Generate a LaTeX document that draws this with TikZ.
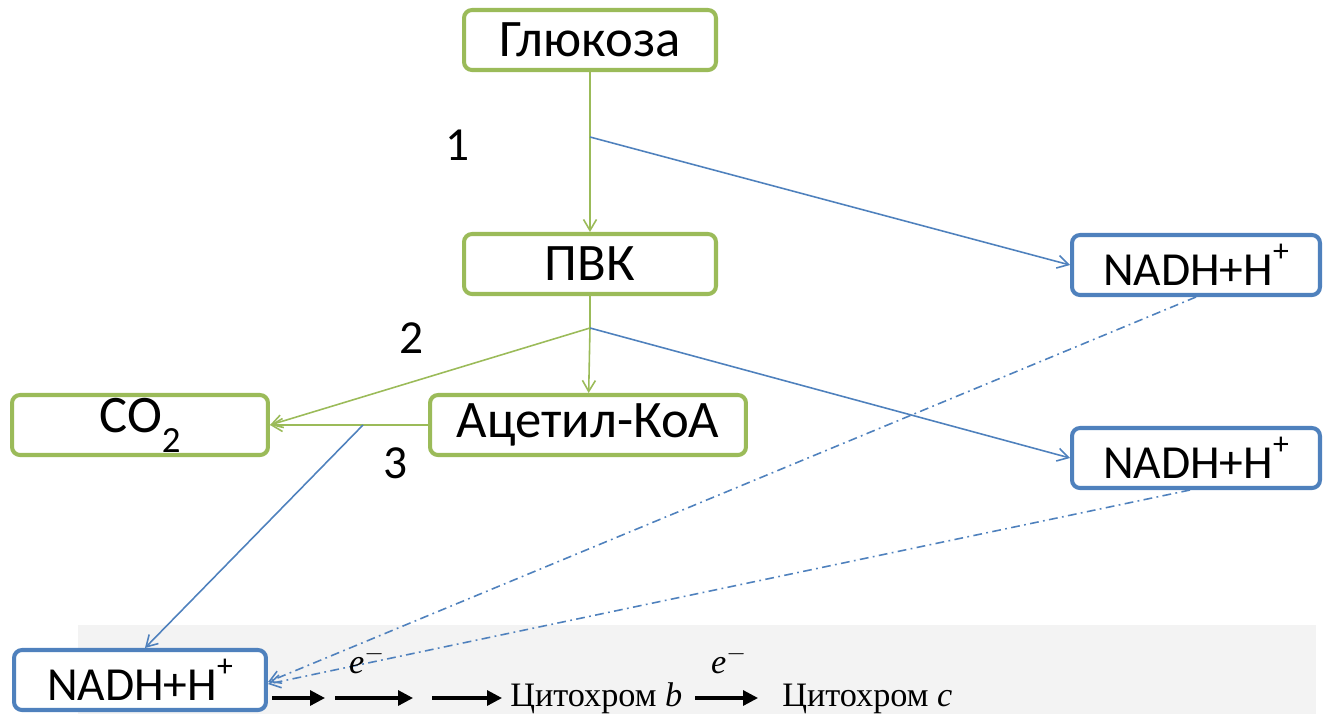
\documentclass[tikz,border=0pt]{standalone}
\usepackage{fontspec}
\setmainfont{Carlito}
\newfontfamily\serifcyr{Liberation Serif}
\usetikzlibrary{arrows.meta}

\definecolor{verde}{HTML}{9BBB59}
\definecolor{blu}{HTML}{4F81BD}
\definecolor{grigio}{HTML}{F3F3F3}

\begin{document}
\begin{tikzpicture}[
    x=0.02cm,
    y=-0.02cm,
    >={Straight Barb[length=2.2mm,width=2.6mm]},
    % Stile per i blocchi
    metab/.style={rectangle, rounded corners=0.16cm, draw=verde, line width=2.3pt, fill=white,
        minimum width=5.04cm, minimum height=1.2cm, inner sep=0pt,
        font=\fontsize{30}{33}\selectfont},
    nadh/.style={metab, draw=blu, minimum width=4.96cm, font=\fontsize{27}{30}\selectfont},
    numero/.style={font=\fontsize{27}{30}\selectfont},
    % Stile per le frecce
    verdeline/.style={draw=verde, line width=0.9pt},
    bluline/.style={draw=blu, line width=0.9pt},
    tratto/.style={bluline, dash pattern=on 5pt off 2.5pt on 1pt off 2.5pt},
    catena/.style={line width=1.8pt, -{Triangle[length=3mm,width=3mm]}},
    cito/.style={inner sep=0pt, anchor=base west, font=\serifcyr\fontsize{19.5}{22}\selectfont},
    elettrone/.style={font=\serifcyr\itshape\fontsize{19.5}{22}\selectfont}
]
    \useasboundingbox (0,0) rectangle (1326,714);

    % Striscia della catena respiratoria
    \fill[grigio] (78,625) rectangle (1316,714);

    % Definizione dei Nodi
    \node[metab] (glu) at (590,40) {Глюкоза};
    \node[metab] (pvk) at (590,264) {ПВК};
    \node[metab, minimum width=5.12cm] (co2) at (140,425)
        {CO\raisebox{-0.8ex}{\fontsize{21}{21}\selectfont 2}};
    \node[metab, minimum width=6.32cm] (acet) at (588,425) {Ацетил-КоА};
    \node[nadh] (nadhA) at (1196,265) {NADH+H\raisebox{1.05ex}{\fontsize{18}{18}\selectfont +}};
    \node[nadh] (nadhB) at (1196,458) {NADH+H\raisebox{1.05ex}{\fontsize{18}{18}\selectfont +}};
    \node[nadh, minimum width=5.04cm] (nadhC) at (140,680) {NADH+H\raisebox{1.05ex}{\fontsize{18}{18}\selectfont +}};

    \node[numero] (n1) at (458,145) {1};
    \node[numero] (n2) at (412,338) {2};
    \node[numero] (n3) at (396,463) {3};

    % Punti di diramazione
    \coordinate (d1) at (590,137);
    \coordinate (d2) at (590,328);
    \coordinate (d3) at (363,425);

    % Archi e transizioni
    \draw[verdeline, ->] (glu) -- (pvk);
    \draw[bluline, ->] (d1) -- (nadhA.west);
    \draw[verdeline] (pvk) -- (d2);
    \draw[verdeline, ->] (d2) -- (acet);
    \draw[verdeline, ->] (d2) -- (co2.east);
    \draw[bluline, ->] (d2) -- (nadhB.west);
    \draw[verdeline, ->] (acet) -- (co2);
    \draw[bluline, ->] (d3) -- ([xshift=0.1cm]nadhC.north);

    % Verso la catena
    \draw[tratto, ->] (nadhA.south) -- ([yshift=-0.04cm]nadhC.east);
    \draw[tratto, ->] ([xshift=-0.12cm]nadhB.south) -- ([yshift=-0.08cm]nadhC.east);

    % Catena respiratoria
    \node[cito] (cytb) at (510,706) {Цитохром \textit{b}};
    \node[cito] (cytc) at (782,706) {Цитохром \textit{c}};
    \node[elettrone] (e1) at (367,660) {e$^{-}$};
    \node[elettrone] (e2) at (729,660) {e$^{-}$};

    \coordinate (a1) at (272,698);
    \coordinate (a2) at (325,698);
    \coordinate (a3) at (335,698);
    \coordinate (a4) at (413,698);
    \coordinate (a5) at (432,698);
    \coordinate (a6) at (502,698);
    \coordinate (a7) at (695,698);
    \coordinate (a8) at (758,698);
    \draw[catena] (a1) -- (a2);
    \draw[catena] (a3) -- (a4);
    \draw[catena] (a5) -- (a6);
    \draw[catena] (a7) -- (a8);

\end{tikzpicture}
\end{document}
